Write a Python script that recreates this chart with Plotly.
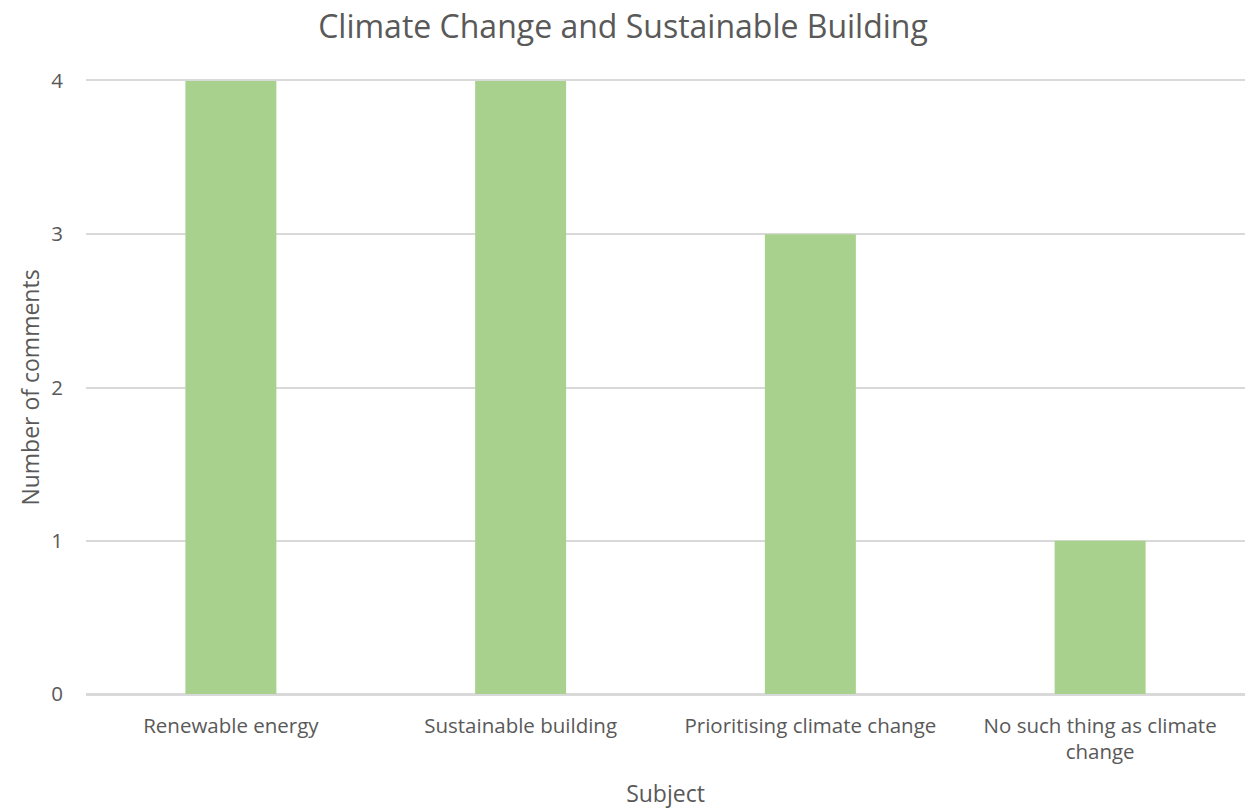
import plotly.graph_objects as go

categories = ["Renewable energy", "Sustainable building", "Prioritising climate change",
              "No such thing as climate<br>change"]
values = [4, 4, 3, 1]
y_ticks = [0, 1, 2, 3, 4]

font_family = "Open Sans, Liberation Sans, sans-serif"
text_color = "#595959"
grid_color = "#d9d9d9"

fig = go.Figure(go.Bar(x=categories, y=values, marker_color="#a9d18e",
                       marker_line_width=0))

fig.update_layout(
    width=1246, height=811,
    margin=dict(l=86, r=1, t=81, b=117),
    paper_bgcolor="white", plot_bgcolor="white",
    bargap=0.686,
    showlegend=False,
    title=dict(text="Climate Change and Sustainable Building", x=0.5, xanchor="center",
               y=0.967, yanchor="middle", font=dict(family=font_family, size=32, color=text_color)),
    font=dict(family=font_family, color=text_color),
    xaxis=dict(
        showgrid=False, zeroline=False, automargin=False,
        showline=True, mirror=True, linecolor=grid_color, linewidth=2,
        tickfont=dict(size=20.5, color=text_color),
        ticks="", ticklabelstandoff=12,
        title=dict(text="Subject", font=dict(size=23, color=text_color), standoff=22),
    ),
    yaxis=dict(
        range=[0, 4], tickvals=y_ticks, automargin=False,
        showgrid=True, gridcolor=grid_color, gridwidth=2,
        zeroline=True, zerolinecolor=grid_color, zerolinewidth=2,
        showline=False, ticks="",
        tickfont=dict(size=20.5, color=text_color), ticklabelstandoff=22,
        title=dict(text="Number of comments", font=dict(size=23, color=text_color), standoff=5),
    ),
)

fig.write_html(
    "out.html",
    config={"displayModeBar": False},
    post_script="document.body.style.margin='0';document.body.style.overflow='hidden';",
)
